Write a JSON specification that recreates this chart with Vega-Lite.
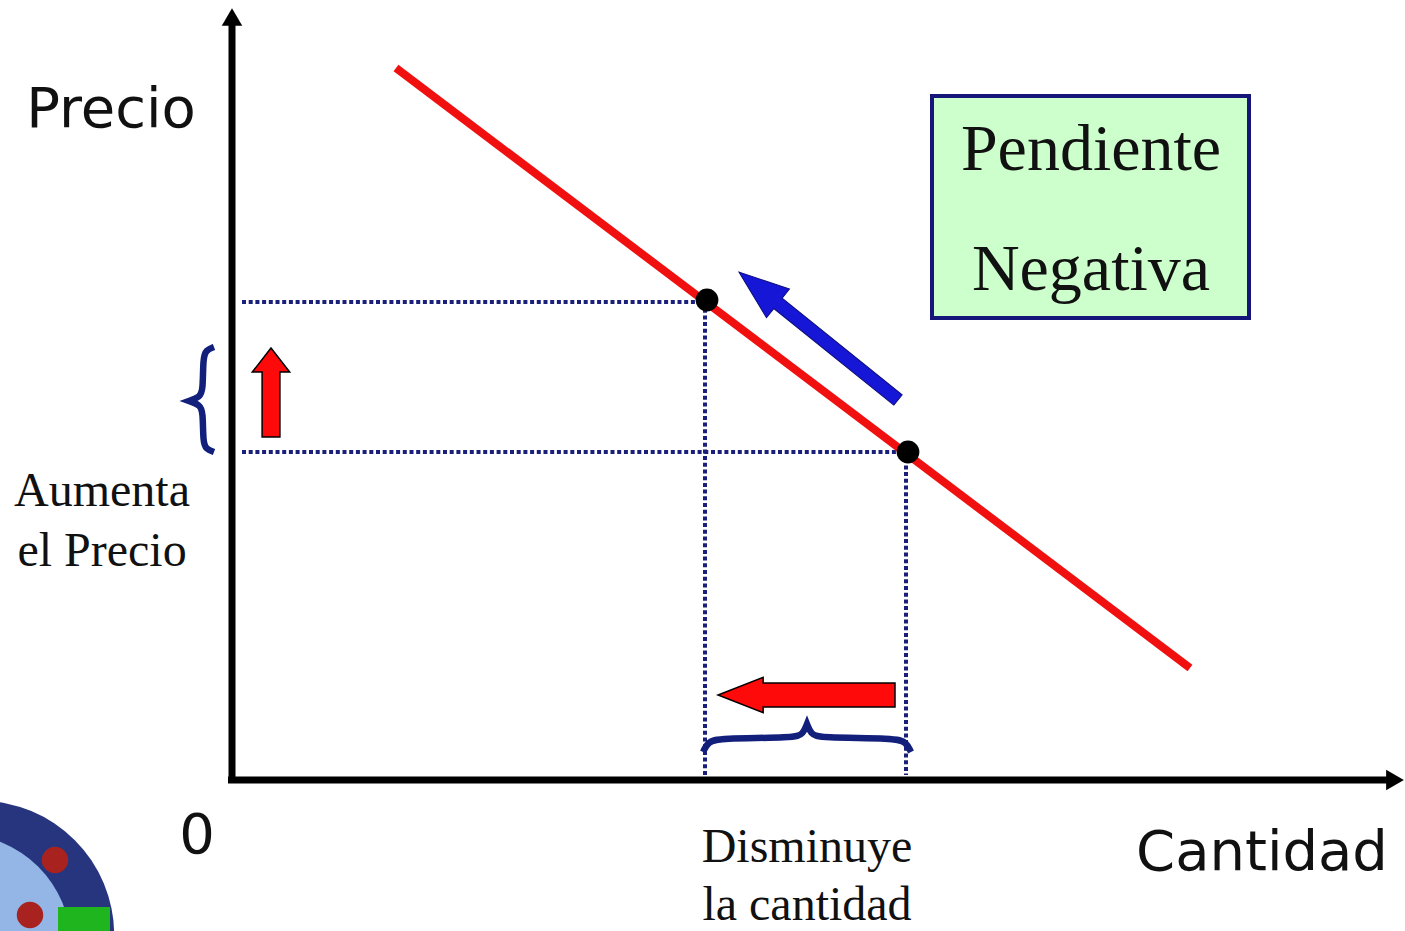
{
  "$schema": "https://vega.github.io/schema/vega-lite/v6.json",
  "width": 1405,
  "height": 931,
  "autosize": "none",
  "padding": 0,
  "background": "white",
  "config": {"view": {"stroke": null}},
  "datasets": {
    "halo": [{"q": -25.2, "p": -15.5}],
    "globe": [{"q": -27.2, "p": -16.5}],
    "green": [{"q": -17.4, "q2": -12.2, "p": -12.7, "p2": -15.1}],
    "books": [{"q": -17.7, "p": -8.0}, {"q": -20.2, "p": -13.5}],
    "axes": [
      {"id": "y", "o": 0, "q": 0, "p": 0},
      {"id": "y", "o": 1, "q": 0, "p": 75.8},
      {"id": "x", "o": 0, "q": -0.4, "p": 0},
      {"id": "x", "o": 1, "q": 116, "p": 0}
    ],
    "yhead": [{"q": 0, "p": 76.3}],
    "xhead": [{"q": 116.3, "p": 0}],
    "guides": [
      {"id": "h1", "o": 0, "q": 1.0, "p": 47.8},
      {"id": "h1", "o": 1, "q": 46.8, "p": 47.8},
      {"id": "h2", "o": 0, "q": 1.0, "p": 32.8},
      {"id": "h2", "o": 1, "q": 67.0, "p": 32.8},
      {"id": "v1", "o": 0, "q": 47.3, "p": 47.8},
      {"id": "v1", "o": 1, "q": 47.3, "p": 0.5},
      {"id": "v2", "o": 0, "q": 67.4, "p": 32.8},
      {"id": "v2", "o": 1, "q": 67.4, "p": 0.5}
    ],
    "demand": [
      {"o": 0, "q": 16.4, "p": 71.2},
      {"o": 1, "q": 95.8, "p": 11.2}
    ],
    "dots": [{"q": 47.5, "p": 48.0}, {"q": 67.6, "p": 32.8}],
    "braces": [
      {"id": "b", "o": 0, "q": 47.1, "p": 2.8},
      {"id": "b", "o": 1, "q": 47.6, "p": 3.8},
      {"id": "b", "o": 2, "q": 48.6, "p": 4.2},
      {"id": "b", "o": 3, "q": 56.3, "p": 4.2},
      {"id": "b", "o": 4, "q": 57.1, "p": 4.6},
      {"id": "b", "o": 5, "q": 57.5, "p": 5.6},
      {"id": "b", "o": 6, "q": 57.5, "p": 5.6},
      {"id": "b", "o": 7, "q": 57.5, "p": 5.6},
      {"id": "b", "o": 8, "q": 57.9, "p": 4.6},
      {"id": "b", "o": 9, "q": 58.7, "p": 4.2},
      {"id": "b", "o": 10, "q": 66.4, "p": 4.2},
      {"id": "b", "o": 11, "q": 67.4, "p": 3.8},
      {"id": "b", "o": 12, "q": 67.9, "p": 2.8},
      {"id": "l", "o": 0, "q": -1.8, "p": 43.3},
      {"id": "l", "o": 1, "q": -2.6, "p": 43.0},
      {"id": "l", "o": 2, "q": -2.9, "p": 42.2},
      {"id": "l", "o": 3, "q": -2.9, "p": 39.0},
      {"id": "l", "o": 4, "q": -3.2, "p": 38.3},
      {"id": "l", "o": 5, "q": -4.3, "p": 37.9},
      {"id": "l", "o": 6, "q": -4.3, "p": 37.9},
      {"id": "l", "o": 7, "q": -4.3, "p": 37.9},
      {"id": "l", "o": 8, "q": -3.2, "p": 37.5},
      {"id": "l", "o": 9, "q": -2.9, "p": 36.8},
      {"id": "l", "o": 10, "q": -2.9, "p": 33.8},
      {"id": "l", "o": 11, "q": -2.6, "p": 33.1},
      {"id": "l", "o": 12, "q": -1.8, "p": 32.8}
    ],
    "bluearrow": [{"q": 58.65, "p": 44.4}],
    "uparrow": [{"q": 3.9, "p": 38.75}],
    "leftarrow": [{"q": 57.45, "p": 8.5}],
    "box": [{"q": 70.0, "q2": 101.7, "p": 68.4, "p2": 46.2}],
    "sans": [
      {"t": "Precio", "q": -12.1, "p": 65.3},
      {"t": "Cantidad", "q": 103.0, "p": -9.0},
      {"t": "0", "q": -3.5, "p": -7.3}
    ],
    "serif": [
      {"t": "Aumenta", "q": -13.0, "p": 27.4},
      {"t": "el Precio", "q": -13.0, "p": 21.4},
      {"t": "Disminuye", "q": 57.5, "p": -8.2},
      {"t": "la cantidad", "q": 57.5, "p": -14.0}
    ],
    "boxtext": [
      {"t": "Pendiente", "q": 85.9, "p": 61.0},
      {"t": "Negativa", "q": 85.9, "p": 49.0}
    ]
  },
  "encoding": {
    "x": {"field": "q", "type": "quantitative", "scale": {"domain": [-23.2, 117.3], "nice": false, "zero": false}, "axis": null},
    "y": {"field": "p", "type": "quantitative", "scale": {"domain": [-15.1, 78.0], "nice": false, "zero": false}, "axis": null}
  },
  "layer": [
    {"data": {"name": "halo"}, "mark": {"type": "point", "shape": "circle", "filled": true, "color": "#1b2a78", "opacity": 0.95, "size": 72000}},
    {"data": {"name": "globe"}, "mark": {"type": "point", "shape": "circle", "filled": true, "color": "#93b6e6", "opacity": 1, "size": 49087}},
    {"data": {"name": "green"}, "mark": {"type": "rect", "color": "#1fb51f"}, "encoding": {"x2": {"field": "q2"}, "y2": {"field": "p2"}}},
    {"data": {"name": "books"}, "mark": {"type": "point", "shape": "circle", "filled": true, "color": "#a8231f", "opacity": 1, "size": 700}},
    {"data": {"name": "axes"}, "mark": {"type": "line", "color": "#000000", "strokeWidth": 7}, "encoding": {"detail": {"field": "id"}, "order": {"field": "o", "type": "quantitative"}}},
    {"data": {"name": "yhead"}, "mark": {"type": "point", "shape": "triangle-up", "filled": true, "color": "#000000", "opacity": 1, "size": 420}},
    {"data": {"name": "xhead"}, "mark": {"type": "point", "shape": "triangle-right", "filled": true, "color": "#000000", "opacity": 1, "size": 420}},
    {"data": {"name": "guides"}, "mark": {"type": "line", "color": "#1a1f7a", "strokeWidth": 4, "strokeDash": [4, 2.7]}, "encoding": {"detail": {"field": "id"}, "order": {"field": "o", "type": "quantitative"}}},
    {"data": {"name": "demand"}, "mark": {"type": "line", "color": "#f01010", "strokeWidth": 8}, "encoding": {"order": {"field": "o", "type": "quantitative"}}},
    {"data": {"name": "dots"}, "mark": {"type": "point", "shape": "circle", "filled": true, "color": "#000000", "opacity": 1, "size": 520}},
    {"data": {"name": "braces"}, "mark": {"type": "line", "color": "#12207c", "strokeWidth": 6.5, "interpolate": "basis"}, "encoding": {"detail": {"field": "id"}, "order": {"field": "o", "type": "quantitative"}}},
    {"data": {"name": "bluearrow"}, "mark": {"type": "point", "shape": "M-0.065,1L-0.065,-0.51L-0.18,-0.51L0,-1L0.18,-0.51L0.065,-0.51L0.065,1Z", "filled": true, "color": "#1616d6", "stroke": "#0b0b7a", "strokeWidth": 1, "opacity": 1, "size": 41616, "angle": 308.8}},
    {"data": {"name": "uparrow"}, "mark": {"type": "point", "shape": "M-0.2,1L-0.2,-0.46L-0.42,-0.46L0,-1L0.42,-0.46L0.2,-0.46L0.2,1Z", "filled": true, "fill": "#ff0a0a", "stroke": "#000000", "strokeWidth": 1.5, "opacity": 1, "size": 7921, "angle": 0}},
    {"data": {"name": "leftarrow"}, "mark": {"type": "point", "shape": "M-0.135,1L-0.135,-0.49L-0.2,-0.49L0,-1L0.2,-0.49L0.135,-0.49L0.135,1Z", "filled": true, "fill": "#ff0a0a", "stroke": "#000000", "strokeWidth": 1.5, "opacity": 1, "size": 31329, "angle": 270}},
    {"data": {"name": "box"}, "mark": {"type": "rect", "fill": "#ccffcc", "stroke": "#16167a", "strokeWidth": 4}, "encoding": {"x2": {"field": "q2"}, "y2": {"field": "p2"}}},
    {"data": {"name": "sans"}, "mark": {"type": "text", "font": "DejaVu Sans", "fontSize": 56, "color": "#111111", "align": "center", "baseline": "alphabetic"}, "encoding": {"text": {"field": "t"}}},
    {"data": {"name": "serif"}, "mark": {"type": "text", "font": "Liberation Serif", "fontSize": 48, "color": "#111111", "align": "center", "baseline": "alphabetic"}, "encoding": {"text": {"field": "t"}}},
    {"data": {"name": "boxtext"}, "mark": {"type": "text", "font": "Liberation Serif", "fontSize": 66, "color": "#111111", "align": "center", "baseline": "alphabetic"}, "encoding": {"text": {"field": "t"}}}
  ]
}
